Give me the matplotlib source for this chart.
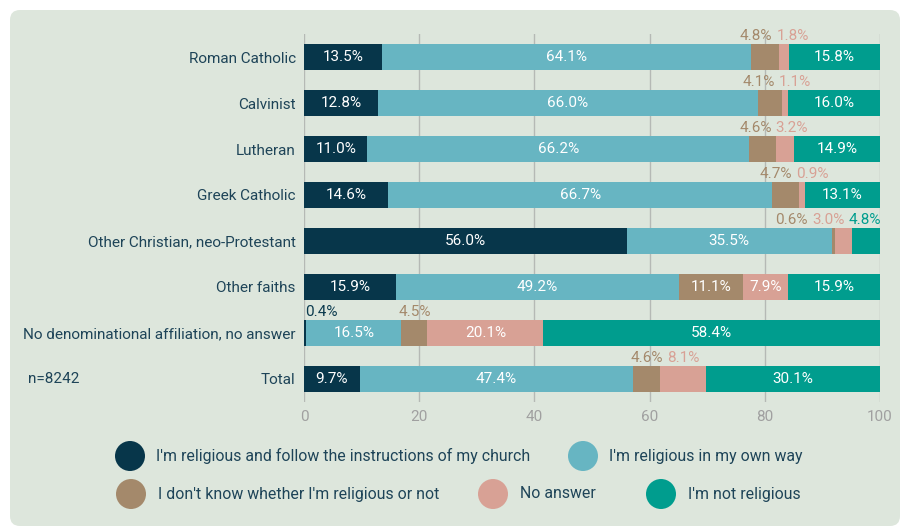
import numpy as np
import matplotlib.pyplot as plt
from matplotlib.patches import FancyBboxPatch, Circle

plt.rcParams["font.family"] = ["Roboto", "DejaVu Sans"]

categories = [
    "Roman Catholic",
    "Calvinist",
    "Lutheran",
    "Greek Catholic",
    "Other Christian, neo-Protestant",
    "Other faiths",
    "No denominational affiliation, no answer",
    "Total",
]
series_names = [
    "I'm religious and follow the instructions of my church",
    "I'm religious in my own way",
    "I don't know whether I'm religious or not",
    "No answer",
    "I'm not religious",
]
follow_church = [13.5, 12.8, 11.0, 14.6, 56.0, 15.9, 0.4, 9.7]
own_way = [64.1, 66.0, 66.2, 66.7, 35.5, 49.2, 16.5, 47.4]
dont_know = [4.8, 4.1, 4.6, 4.7, 0.6, 11.1, 4.5, 4.6]
no_answer = [1.8, 1.1, 3.2, 0.9, 3.0, 7.9, 20.1, 8.1]
not_religious = [15.8, 16.0, 14.9, 13.1, 4.8, 15.9, 58.4, 30.1]

colors = ["#07364a", "#67b5c2", "#a4896b", "#d8a195", "#009d8e"]
outside_colors = ["#0b3a4e", "#67b5c2", "#a4896b", "#d8a195", "#009d8e"]

# labels drawn above the bar (row, series)
outside = {(0, 2), (0, 3), (1, 2), (1, 3), (2, 2), (2, 3), (3, 2), (3, 3),
           (4, 2), (4, 3), (4, 4), (6, 0), (6, 2), (7, 2), (7, 3)}

data = np.array([follow_church, own_way, dont_know, no_answer, not_religious])
pct = data / data.sum(axis=0) * 100

fig = plt.figure(figsize=(9.02, 5.29), dpi=100)
bg = fig.add_axes([0, 0, 1, 1])
bg.set_xlim(0, 902)
bg.set_ylim(529, 0)
bg.axis("off")
bg.add_patch(FancyBboxPatch((10, 10), 890, 516, boxstyle="round,pad=0,rounding_size=10",
                            fc="#dde6dc", ec="none"))

ax = fig.add_axes([304 / 902, 1 - 402 / 529, 576 / 902, 368 / 529])
ax.patch.set_alpha(0)
n = len(categories)
y = np.arange(n)
bar_h = 0.57

left = np.zeros(n)
for s in range(5):
    ax.barh(y, pct[s], left=left, height=bar_h, color=colors[s], zorder=3)
    left += pct[s]

ax.set_xlim(0, 100)
ax.set_ylim(n - 0.5, -0.5)
ax.set_yticks(y)
ax.set_yticklabels(categories, fontsize=11, color="#1e4458")
ax.set_xticks(range(0, 101, 20))
ax.tick_params(axis="x", colors="#a0a0a0", labelsize=11, length=0, pad=6)
ax.tick_params(axis="y", length=0, pad=6)
for sp in ax.spines.values():
    sp.set_visible(False)
for gx in range(0, 101, 20):
    ax.axvline(gx, color="#b5b9b5", lw=1, zorder=1)

# inside labels
starts = np.vstack([np.zeros(n), np.cumsum(pct, axis=0)[:-1]])
for i in range(n):
    for s in range(5):
        if (i, s) in outside:
            continue
        cx = starts[s, i] + pct[s, i] / 2
        ax.text(cx, i, f"{data[s, i]:.1f}%", ha="center", va="center",
                color="white", fontsize=11, zorder=4)

# outside labels, spread so they don't overlap
min_d = 6.3
half = 3.0
for i in range(n):
    items = [s for s in range(5) if (i, s) in outside]
    xs = [starts[s, i] + pct[s, i] / 2 for s in items]
    for k in range(len(xs) - 1):
        if xs[k + 1] - xs[k] < min_d:
            shift = (min_d - (xs[k + 1] - xs[k])) / 2
            xs[k] -= shift
            xs[k + 1] += shift
    if xs:
        xs[-1] = min(xs[-1], 100.3 - half)
        for k in range(len(xs) - 2, -1, -1):
            xs[k] = min(xs[k], xs[k + 1] - min_d)
        xs[0] = max(xs[0], half)
        for k in range(1, len(xs)):
            xs[k] = max(xs[k], xs[k - 1] + min_d)
    for s, cx in zip(items, xs):
        ax.text(cx, i - bar_h / 2 - 0.03, f"{data[s, i]:.1f}%", ha="center", va="bottom",
                color=outside_colors[s], fontsize=11, zorder=4)

bg.text(28, 379, "n=8242", ha="left", va="center", fontsize=11, color="#1e4458")

# legend
legend_pos = [(130, 456, 156), (583, 456, 609), (131, 494, 158), (493, 494, 520), (661, 494, 688)]
for s, (cx, cy, tx) in enumerate(legend_pos):
    bg.add_patch(Circle((cx, cy), 15, fc=colors[s], ec="none"))
    bg.text(tx, cy, series_names[s], ha="left", va="center", fontsize=11.4, color="#1e4458")

fig.savefig("out.png", dpi=100)
